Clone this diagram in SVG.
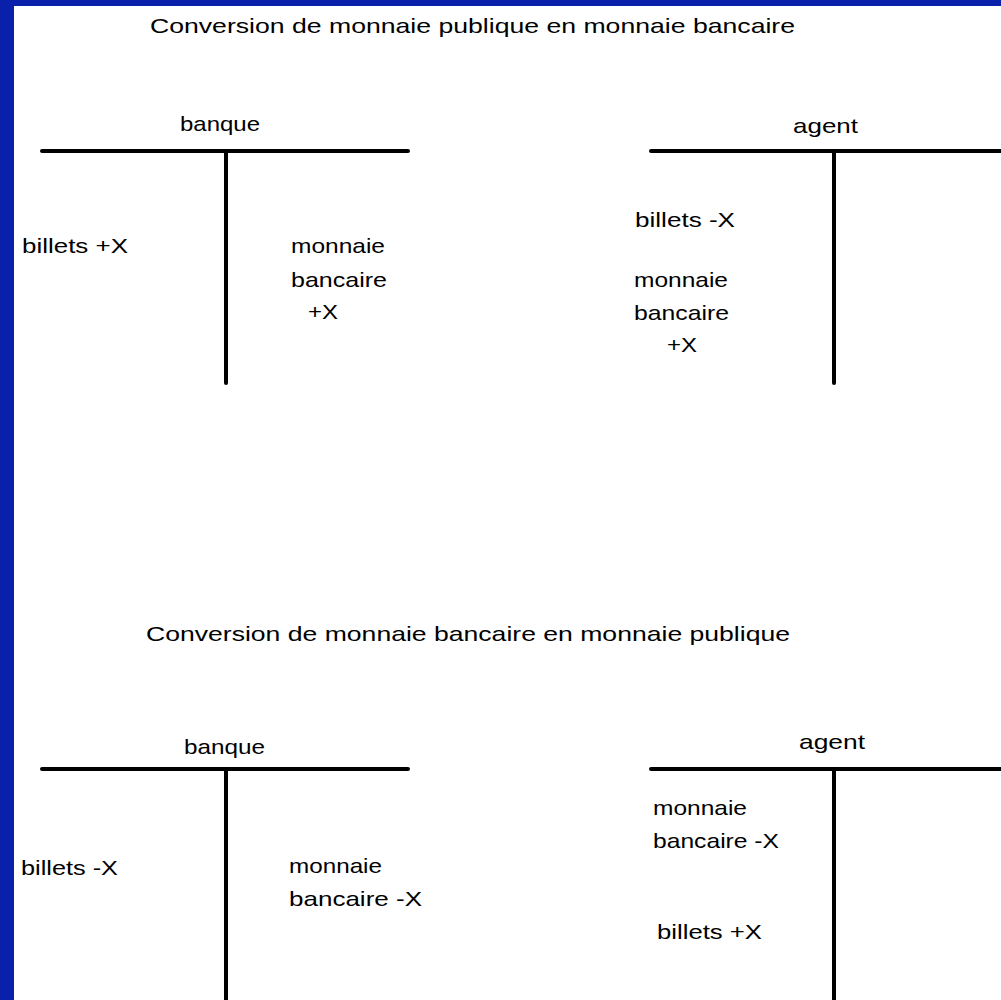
<svg xmlns="http://www.w3.org/2000/svg" width="1001" height="1000" viewBox="0 0 1001 1000">
<style>
text{font-family:"Liberation Sans",Arial,sans-serif;font-size:21px;fill:#000}
.ln{stroke:#000;stroke-width:4;stroke-linecap:round;fill:none}
</style>
<rect x="0" y="0" width="1001" height="1000" fill="#ffffff"/>
<rect x="0" y="0" width="1001" height="6" fill="#0820AA"/>
<rect x="0" y="0" width="14" height="1000" fill="#0820AA"/>
<text x="150" y="33" textLength="645" lengthAdjust="spacingAndGlyphs">Conversion de monnaie publique en monnaie bancaire</text>
<text x="146" y="641" textLength="644" lengthAdjust="spacingAndGlyphs">Conversion de monnaie bancaire en monnaie publique</text>
<g id="connectors"/>
<g id="banque-top">
<line class="ln" x1="42" y1="151" x2="408" y2="151"/>
<line class="ln" x1="226" y1="151" x2="226" y2="383"/>
<text x="180" y="131" textLength="80" lengthAdjust="spacingAndGlyphs">banque</text>
<text x="22" y="253" textLength="106" lengthAdjust="spacingAndGlyphs">billets  +X</text>
<text x="291" y="253" textLength="94" lengthAdjust="spacingAndGlyphs">monnaie</text>
<text x="291" y="287" textLength="96" lengthAdjust="spacingAndGlyphs">bancaire</text>
<text x="308" y="319" textLength="30" lengthAdjust="spacingAndGlyphs">+X</text>
</g>
<g id="agent-top">
<line class="ln" x1="651" y1="151" x2="1003" y2="151"/>
<line class="ln" x1="834" y1="151" x2="834" y2="383"/>
<text x="793" y="133" textLength="65" lengthAdjust="spacingAndGlyphs">agent</text>
<text x="635" y="227" textLength="100" lengthAdjust="spacingAndGlyphs">billets  -X</text>
<text x="634" y="287" textLength="94" lengthAdjust="spacingAndGlyphs">monnaie</text>
<text x="634" y="320" textLength="95" lengthAdjust="spacingAndGlyphs">bancaire</text>
<text x="667" y="352" textLength="30" lengthAdjust="spacingAndGlyphs">+X</text>
</g>
<g id="banque-bottom">
<line class="ln" x1="42" y1="769" x2="408" y2="769"/>
<line class="ln" x1="226" y1="769" x2="226" y2="1003"/>
<text x="184" y="754" textLength="81" lengthAdjust="spacingAndGlyphs">banque</text>
<text x="21" y="875" textLength="97" lengthAdjust="spacingAndGlyphs">billets  -X</text>
<text x="289" y="873" textLength="93" lengthAdjust="spacingAndGlyphs">monnaie</text>
<text x="289" y="906" textLength="133" lengthAdjust="spacingAndGlyphs">bancaire  -X</text>
</g>
<g id="agent-bottom">
<line class="ln" x1="651" y1="769" x2="1003" y2="769"/>
<line class="ln" x1="834" y1="769" x2="834" y2="1003"/>
<text x="799" y="749" textLength="66" lengthAdjust="spacingAndGlyphs">agent</text>
<text x="653" y="815" textLength="94" lengthAdjust="spacingAndGlyphs">monnaie</text>
<text x="653" y="848" textLength="126" lengthAdjust="spacingAndGlyphs">bancaire -X</text>
<text x="657" y="939" textLength="105" lengthAdjust="spacingAndGlyphs">billets  +X</text>
</g>
</svg>
